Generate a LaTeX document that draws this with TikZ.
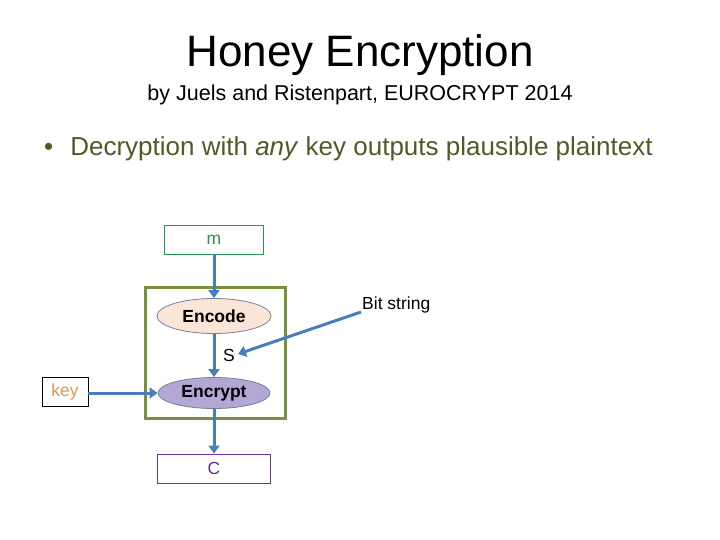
\documentclass[tikz,border=0pt]{standalone}
\usepackage{fontspec}
\setmainfont{Liberation Sans}
\usetikzlibrary{arrows.meta,shapes.geometric}
\definecolor{olivetxt}{RGB}{79,90,40}
\definecolor{olivebox}{RGB}{118,146,60}
\definecolor{arrblue}{RGB}{74,126,187}
\definecolor{mgreen}{RGB}{35,150,80}
\definecolor{keyorange}{RGB}{228,150,90}
\definecolor{cpurple}{RGB}{112,48,160}
\definecolor{cpurpletxt}{RGB}{96,50,130}
\definecolor{peach}{RGB}{251,229,214}
\definecolor{lavender}{RGB}{180,167,214}
\definecolor{ellborder}{RGB}{110,130,160}
\tikzset{
  arr/.style={draw=arrblue, line width=3pt, -{Triangle[length=8pt,width=11pt]}},
  lbl/.style={font=\fontsize{17.5}{20}\selectfont, inner sep=0pt},
  boxnode/.style={draw, line width=0.8pt, minimum height=29pt, inner sep=0pt, font=\fontsize{17.5}{20}\selectfont},
  ell/.style={ellipse, draw=ellborder, line width=0.8pt, inner sep=0pt, font=\bfseries\fontsize{17.5}{20}\selectfont}
}
\begin{document}
\begin{tikzpicture}[x=1pt,y=-1pt]
\useasboundingbox (0,0) rectangle (720,540);
\node (title) at (360,55) {\fontsize{44}{50}\selectfont Honey Encryption};
\node (sub) at (360,95) {\fontsize{21.5}{26}\selectfont by Juels and Ristenpart, EUROCRYPT 2014};
\node[anchor=west, text=olivetxt, inner sep=0pt] (bul) at (44,149) {\fontsize{26}{30}\selectfont •\hspace{17pt}Decryption with \textit{any} key outputs plausible plaintext};
\draw[olivebox, line width=3pt] (145,287) rectangle (285,418);
\node[boxnode, draw=mgreen, text=mgreen, minimum width=99pt] (m) at (214,239.5) {m};
\node[ell, fill=peach, minimum width=114pt, minimum height=35pt] (enc) at (214,316) {Encode};
\node[ell, fill=lavender, minimum width=112pt, minimum height=31pt] (encr) at (214,393) {Encrypt};
\node[boxnode, draw=black, text=keyorange, minimum width=46pt] (key) at (65,391.5) {key};
\node[boxnode, draw=cpurple, text=cpurpletxt, minimum width=113pt] (c) at (214,468.5) {C};
\node[lbl] (s) at (229,355) {S};
\node[lbl, anchor=west] (bit) at (362,305) {Bit string};
\draw[arr] (m.south) -- (enc.north);
\draw[arr] (enc.south) -- (encr.north);
\draw[arr] (encr.south) -- (c.north);
\draw[arr] (key.east |- encr.west) -- (encr.west);
\draw[arr] ([xshift=-1pt,yshift=-7pt]bit.west) -- ([xshift=3pt,yshift=1pt]s.east);
\end{tikzpicture}
\end{document}
